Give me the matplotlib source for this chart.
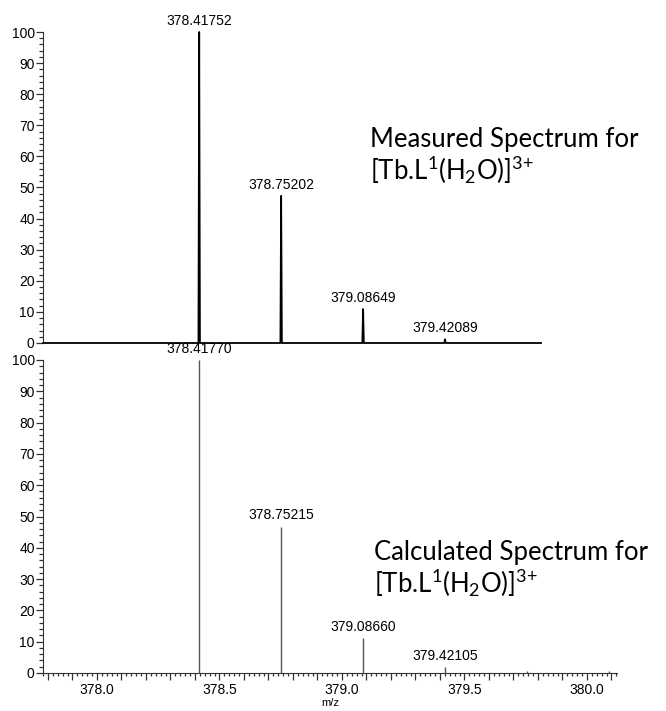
import numpy as np
import matplotlib
matplotlib.use("Agg")
import matplotlib.pyplot as plt
from matplotlib.ticker import MultipleLocator, FuncFormatter

# Peak lists (m/z, relative abundance)
meas_mz = [378.41752, 378.75202, 379.08649, 379.42089]
meas_int = [100.0, 47.3, 10.9, 1.2]
meas_labels = ["378.41752", "378.75202", "379.08649", "379.42089"]

calc_mz = [378.41770, 378.75215, 379.08660, 379.42105, 379.7555, 380.0900]
calc_int = [100.0, 46.8, 11.1, 2.0, 0.7, 0.7]
calc_labels = ["378.41770", "378.75215", "379.08660", "379.42105", None, None]

title_top = ["Measured Spectrum for", r"[Tb.L$^1$(H$_2$O)]$^{3{+}}$"]
title_bot = ["Calculated Spectrum for", r"[Tb.L$^1$(H$_2$O)]$^{3{+}}$"]

plt.rcParams["font.family"] = ["Liberation Sans", "DejaVu Sans"]
plt.rcParams["mathtext.fontset"] = "custom"
plt.rcParams["mathtext.rm"] = "Lato"
plt.rcParams["mathtext.it"] = "Lato:italic"
plt.rcParams["mathtext.default"] = "rm"

W, H = 666, 711
fig = plt.figure(figsize=(W / 100, H / 100), dpi=100)


def px_axes(left, right, top, bottom):
    return fig.add_axes([left / W, 1 - bottom / H, (right - left) / W, (bottom - top) / H])


ax1 = px_axes(43, 541, 32, 343)
ax2 = px_axes(43, 617, 360, 673)

px_per_unit = 245.0
x0 = 377.78
ax1.set_xlim(x0, x0 + (541 - 43) / px_per_unit)
ax2.set_xlim(x0, x0 + (617 - 43) / px_per_unit)

for ax in (ax1, ax2):
    ax.set_ylim(0, 100)
    ax.spines["top"].set_visible(False)
    ax.spines["right"].set_visible(False)
    ax.patch.set_alpha(0)
    ax.yaxis.set_major_locator(MultipleLocator(10))
    ax.yaxis.set_minor_locator(MultipleLocator(2))
    ax.tick_params(axis="y", which="major", direction="out", length=5, width=0.9,
                   labelsize=10, pad=1, color="#333333")
    ax.tick_params(axis="y", which="minor", direction="out", length=3, width=0.9,
                   color="#333333")
    ax.spines["left"].set_color("#333333")

# Measured profile: narrow triangular peaks on a flat baseline
w = 0.003
xs = [ax1.get_xlim()[0]]
ys = [0.0]
for m, h in zip(meas_mz, meas_int):
    xs += [m - w, m, m + w]
    ys += [0.0, h, 0.0]
xs.append(ax1.get_xlim()[1])
ys.append(0.0)
ax1.plot(xs, ys, color="black", lw=1.3, solid_joinstyle="round", clip_on=False, zorder=3)
ax1.spines["bottom"].set_visible(False)
ax1.set_xticks([])
for m, h, lab in zip(meas_mz, meas_int, meas_labels):
    ax1.annotate(lab, (m, h), xytext=(0, 3), textcoords="offset points",
                 ha="center", va="bottom", fontsize=10, clip_on=False)

# Calculated stick spectrum
ax2.vlines(calc_mz, 0, calc_int, color="#555555", lw=1.0, zorder=3, clip_on=False)
for m, h, lab in zip(calc_mz, calc_int, calc_labels):
    if lab is None:
        continue
    ax2.annotate(lab, (m, h), xytext=(0, 3), textcoords="offset points",
                 ha="center", va="bottom", fontsize=10, annotation_clip=False)

ax2.xaxis.set_major_locator(MultipleLocator(0.1))
ax2.xaxis.set_minor_locator(MultipleLocator(0.02))
ax2.xaxis.set_major_formatter(FuncFormatter(
    lambda v, p: f"{v:.1f}" if abs(v * 2 - round(v * 2)) < 1e-6 else ""))
ax2.tick_params(axis="x", which="major", direction="out", length=5, width=0.9,
                labelsize=10, pad=2, color="#333333")
ax2.tick_params(axis="x", which="minor", direction="out", length=2.5, width=0.9,
                color="#333333")
ax2.spines["bottom"].set_color("#333333")
ax2.set_xlabel("m/z", fontsize=8, labelpad=1)

# Spectrum captions
cap_kw = dict(fontsize=18.5, family="Lato", ha="left", va="baseline")
fig.text(370 / W, 1 - 147 / H, title_top[0], **cap_kw)
fig.text(370 / W, 1 - 180 / H, title_top[1], **cap_kw)
fig.text(374 / W, 1 - 560 / H, title_bot[0], **cap_kw)
fig.text(374 / W, 1 - 593 / H, title_bot[1], **cap_kw)

fig.savefig("out.png", dpi=100)
